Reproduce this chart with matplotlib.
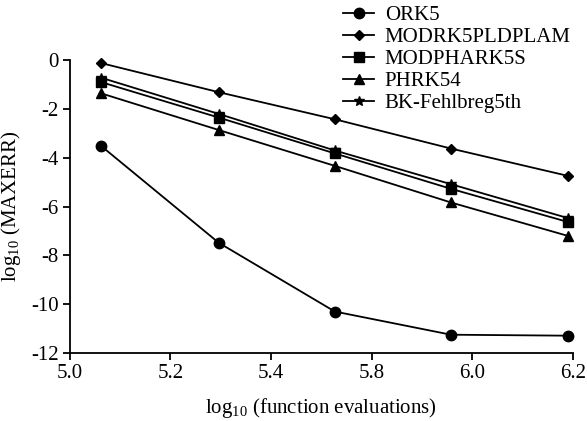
import matplotlib
matplotlib.use("Agg")
import numpy as np
import matplotlib.pyplot as plt

plt.rcParams["font.family"] = ["Liberation Serif", "DejaVu Serif"]
plt.rcParams["mathtext.fontset"] = "custom"
plt.rcParams["mathtext.rm"] = "Liberation Serif"
plt.rcParams["mathtext.it"] = "Liberation Serif:italic"

# x in axis units (ticks evenly spaced from 5.0 to 6.2, labels as printed)
x_evals = [5.075, 5.355, 5.632, 5.909, 6.188]
ork5 = [-3.52, -7.48, -10.3, -11.25, -11.29]
modrk5pldplam = [-0.12, -1.31, -2.42, -3.62, -4.74]
modphark5s = [-0.9, -2.35, -3.82, -5.27, -6.63]
phrk54 = [-1.36, -2.86, -4.33, -5.83, -7.2]
bk_fehlbreg5th = [-0.72, -2.2, -3.7, -5.08, -6.47]

names = ["ORK5", "MODRK5PLDPLAM", "MODPHARK5S", "PHRK54", "BK-Fehlbreg5th"]
series = [ork5, modrk5pldplam, modphark5s, phrk54, bk_fehlbreg5th]
markers = [("o", 7.5), ("D", 5.5), ("s", 7), ("^", 7.5), ("*", 7.5)]

xtick_labels = ["5.0", "5.2", "5.4", "5.8", "6.0", "6.2"]
yticks = [0, -2, -4, -6, -8, -10, -12]

fig = plt.figure(figsize=(5.87, 4.21), dpi=100)
ax = fig.add_axes([0.119, 0.1615, 0.857, 0.6955])

for name, ys, (m, ms) in zip(names, series, markers):
    ax.plot(x_evals, ys, color="black", lw=1.3, marker=m, markersize=ms,
            label=name, clip_on=False)

ax.set_xlim(5.0, 6.2)
ax.set_ylim(-12, 0)
ax.set_xticks(np.linspace(5.0, 6.2, len(xtick_labels)))
ax.set_xticklabels(xtick_labels)
ax.set_yticks(yticks)
ax.set_yticklabels([str(v) for v in yticks])
for s in ("top", "right"):
    ax.spines[s].set_visible(False)
for s in ("left", "bottom"):
    ax.spines[s].set_linewidth(1.3)
ax.tick_params(direction="out", length=5, width=1.3, labelsize=15, colors="black", pad=3)

ax.set_xlabel(r"log$_{10}$ (function evaluations)", fontsize=15, labelpad=9)
ax.set_ylabel(r"log$_{10}$ (MAXERR)", fontsize=15, labelpad=6)

fig.legend(loc="upper left", bbox_to_anchor=(0.563, 1.017), frameon=False,
           fontsize=15, handlelength=1.5, handletextpad=0.5, labelspacing=0.12,
           borderaxespad=0.2)

fig.savefig("out.png", dpi=100)
